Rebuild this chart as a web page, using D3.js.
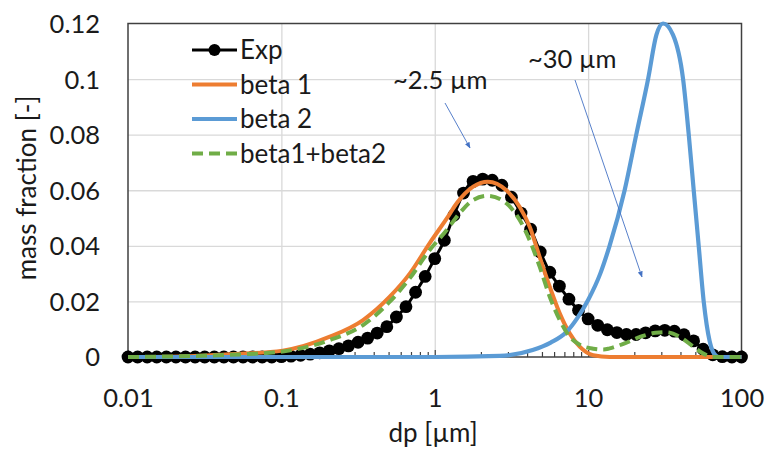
<!DOCTYPE html>
<html>
<head>
<meta charset="utf-8">
<script src="https://cdn.jsdelivr.net/npm/d3@7/dist/d3.min.js"></script>
<style>
  html, body { margin: 0; padding: 0; background: #fff; }
  svg { display: block; }
  text { font-family: Lato, "Open Sans", sans-serif; fill: #1a1a1a; }
</style>
</head>
<body>
<svg id="chart" width="768" height="453"></svg>
<script>
// Measured size distribution (dp in µm, mass fraction)
const expDp = [0.01, 0.01155, 0.01334, 0.0154, 0.01778, 0.02054, 0.02371, 0.02738, 0.03162, 0.03652, 0.04217, 0.0487, 0.05623, 0.06494, 0.07499, 0.0866,
  0.1, 0.1155, 0.1334, 0.154, 0.1778, 0.2054, 0.2371, 0.2738, 0.3162, 0.3652, 0.4217, 0.487, 0.5623, 0.6494, 0.7499, 0.866,
  1, 1.155, 1.334, 1.54, 1.778, 2.054, 2.371, 2.738, 3.162, 3.652, 4.217, 4.87, 5.623, 6.494, 7.499, 8.66,
  10, 11.55, 13.34, 15.4, 17.78, 20.54, 23.71, 27.38, 31.62, 36.52, 42.17, 48.7, 56.23, 64.94, 74.99, 86.6, 100];
const expVal = [0, 0, 0, 0, 0, 0, 0, 0, 0, 0, 0, 0, 0, 0, 0, 0,
  0.0001, 0.0003, 0.0006, 0.0010, 0.0015, 0.0022, 0.0030, 0.0040, 0.0053, 0.0068, 0.0086, 0.0109, 0.0144, 0.0181, 0.0233, 0.0290,
  0.0354, 0.0420, 0.0510, 0.0590, 0.0632, 0.0640, 0.0636, 0.0618, 0.0575, 0.0518, 0.0460, 0.0378, 0.0305, 0.0255, 0.0208, 0.0168,
  0.0137, 0.0114, 0.0098, 0.0088, 0.0081, 0.0081, 0.0087, 0.0094, 0.0096, 0.0093, 0.0080, 0.0058, 0.0028, 0.0008, 0.0001, 0, 0];

// Fitted beta distribution 1
const beta1Dp = [0.01, 0.0218, 0.0461, 0.102, 0.207, 0.341, 0.509, 0.687, 0.927, 1.22, 1.39, 1.78, 2.22, 2.93, 3.58, 4.16, 4.83, 5.62, 6.53, 7.58, 8.81, 10.8, 13.8, 100];
const beta1Val = [0, 0.0002, 0.0010, 0.0023, 0.0073, 0.0133, 0.0217, 0.0300, 0.0410, 0.0505, 0.0553, 0.0613, 0.0631, 0.0600, 0.0540, 0.0469, 0.0360, 0.0253, 0.0157, 0.0085, 0.0037, 0.0006, 0, 0];

// Fitted beta distribution 2
const beta2Dp = [0.01, 1, 2.65, 4.35, 5.7, 7.22, 8.5, 10.0, 12.0, 13.8, 17.3, 20.6, 24.6, 27.9, 30.8, 35.7, 41.6, 45.3, 48.8, 52.6, 56.7, 62.1, 67.9, 71, 100];
const beta2Val = [0, 0, 0.0004, 0.0025, 0.0052, 0.0090, 0.0140, 0.0205, 0.0300, 0.0400, 0.0600, 0.0800, 0.1000, 0.1160, 0.1200, 0.1160, 0.1000, 0.0800, 0.0600, 0.0400, 0.0200, 0.0055, 0.0005, 0, 0];

// Sum of both fitted distributions
const sumDp = [0.01, 0.0461, 0.102, 0.207, 0.341, 0.509, 0.687, 0.927, 1.19, 1.45, 1.78, 2.22, 2.93, 3.58, 4.16, 4.83, 5.62, 6.53, 7.58, 8.81, 10.8, 12.6, 13.8, 17.3, 22.0, 27.5, 32.5, 40.0, 48.5, 56.0, 67.0, 100];
const sumVal = [0, 0.0008, 0.0020, 0.0061, 0.0115, 0.0199, 0.0283, 0.0385, 0.0455, 0.0517, 0.0565, 0.0580, 0.0553, 0.0493, 0.0420, 0.0325, 0.0217, 0.0133, 0.0073, 0.0044, 0.0030, 0.0027, 0.0031, 0.0049, 0.0073, 0.0087, 0.0089, 0.0071, 0.0037, 0.0013, 0, 0];

const xTickValues = [0.01, 0.1, 1, 10, 100];
const xTickLabels = ["0.01", "0.1", "1", "10", "100"];
const yTickValues = [0, 0.02, 0.04, 0.06, 0.08, 0.1, 0.12];
const yTickLabels = ["0", "0.02", "0.04", "0.06", "0.08", "0.1", "0.12"];

const seriesNames = ["Exp", "beta 1", "beta 2", "beta1+beta2"];
const seriesColors = ["#000000", "#ED7D31", "#5B9BD5", "#70AD47"];

const svg = d3.select("#chart");
const plotLeft = 128, plotRight = 741.5, plotTop = 23.5, plotBottom = 357;

const x = d3.scaleLog().domain([0.01, 100]).range([plotLeft, plotRight]);
const y = d3.scaleLinear().domain([0, 0.12]).range([plotBottom, plotTop]);

// gridlines
const grid = svg.append("g");
grid.append("g")
  .attr("transform", `translate(0,${plotBottom})`)
  .call(d3.axisBottom(x).tickValues(xTickValues.slice(1, -1)).tickSize(-(plotBottom - plotTop)).tickFormat(""))
  .call(g => g.select(".domain").remove())
  .call(g => g.selectAll("line").attr("stroke", "#d9d9d9").attr("stroke-width", 1.3));
grid.append("g")
  .attr("transform", `translate(${plotLeft},0)`)
  .call(d3.axisLeft(y).tickValues(yTickValues.slice(1, -1)).tickSize(-(plotRight - plotLeft)).tickFormat(""))
  .call(g => g.select(".domain").remove())
  .call(g => g.selectAll("line").attr("stroke", "#d9d9d9").attr("stroke-width", 1.3));

// minor ticks along the bottom edge
const minorTicks = [];
for (let e = -2; e < 2; e++) for (let m = 2; m <= 9; m++) minorTicks.push(m * Math.pow(10, e));
svg.append("g")
  .attr("transform", `translate(0,${plotBottom})`)
  .call(d3.axisBottom(x).tickValues(minorTicks).tickSize(-5).tickFormat(""))
  .call(g => g.select(".domain").remove())
  .call(g => g.selectAll("line").attr("stroke", "#404040").attr("stroke-width", 1.2));
svg.append("g")
  .attr("transform", `translate(0,${plotBottom})`)
  .call(d3.axisBottom(x).tickValues(xTickValues).tickSize(-7).tickFormat(""))
  .call(g => g.select(".domain").remove())
  .call(g => g.selectAll("line").attr("stroke", "#404040").attr("stroke-width", 1.2));

// plot frame
svg.append("rect")
  .attr("x", plotLeft).attr("y", plotTop)
  .attr("width", plotRight - plotLeft).attr("height", plotBottom - plotTop)
  .attr("fill", "none").attr("stroke", "#404040").attr("stroke-width", 1.5);

// axis labels
svg.append("g")
  .attr("transform", `translate(0,${plotBottom + 31})`)
  .call(d3.axisBottom(x).tickValues(xTickValues).tickSize(0).tickFormat((d, i) => xTickLabels[i]))
  .call(g => g.select(".domain").remove())
  .call(g => g.selectAll("text").attr("font-size", 25.5).attr("dy", "0.35em").attr("y", 10)
    .style("font-family", "Lato, sans-serif").attr("fill", "#1a1a1a"));
svg.append("g")
  .attr("transform", `translate(${plotLeft - 28},0)`)
  .call(d3.axisLeft(y).tickValues(yTickValues).tickSize(0).tickFormat((d, i) => yTickLabels[i]))
  .call(g => g.select(".domain").remove())
  .call(g => g.selectAll("text").attr("font-size", 25.5).attr("x", 0).attr("dy", "0.35em")
    .style("font-family", "Lato, sans-serif").attr("fill", "#1a1a1a"));

svg.append("text")
  .attr("x", 433).attr("y", 442)
  .attr("text-anchor", "middle").attr("font-size", 26)
  .text("dp [µm]");
svg.append("text")
  .attr("transform", "translate(36,188) rotate(-90)")
  .attr("text-anchor", "middle").attr("font-size", 26)
  .text("mass fraction [-]");

const line = d3.line().x(d => x(d[0])).y(d => y(d[1])).curve(d3.curveMonotoneX);
const zip = (a, b) => a.map((v, i) => [v, b[i]]);

const plot = svg.append("g");

// measured data: line with markers
const expData = zip(expDp, expVal);
plot.append("path").datum(expData)
  .attr("d", line).attr("fill", "none").attr("stroke", seriesColors[0]).attr("stroke-width", 3);
plot.append("g").selectAll("circle").data(expData).join("circle")
  .attr("cx", d => x(d[0])).attr("cy", d => y(d[1])).attr("r", 6.4).attr("fill", seriesColors[0]);

// fitted curves
plot.append("path").datum(zip(beta1Dp, beta1Val))
  .attr("d", line).attr("fill", "none").attr("stroke", seriesColors[1]).attr("stroke-width", 4)
  .attr("stroke-linejoin", "round");
plot.append("path").datum(zip(beta2Dp, beta2Val))
  .attr("d", line).attr("fill", "none").attr("stroke", seriesColors[2]).attr("stroke-width", 4.2)
  .attr("stroke-linejoin", "round");
plot.append("path").datum(zip(sumDp, sumVal))
  .attr("d", line).attr("fill", "none").attr("stroke", seriesColors[3]).attr("stroke-width", 4)
  .attr("stroke-dasharray", "11,6");

// legend
const legend = svg.append("g").attr("transform", "translate(192,50)");
seriesNames.forEach((name, i) => {
  const gy = i * 34.5;
  const item = legend.append("g").attr("transform", `translate(0,${gy})`);
  item.append("line").attr("x1", 0).attr("x2", 45).attr("y1", 0).attr("y2", 0)
    .attr("stroke", seriesColors[i]).attr("stroke-width", i === 0 ? 3 : 4)
    .attr("stroke-dasharray", i === 3 ? "11,6" : null);
  if (i === 0) item.append("circle").attr("cx", 22.5).attr("cy", 0).attr("r", 6).attr("fill", "#000");
  item.append("text").attr("x", 48).attr("y", 0).attr("dy", "0.35em")
    .attr("font-size", 26).text(name);
});

// annotations with arrows
const defs = svg.append("defs");
defs.append("marker").attr("id", "arrowhead")
  .attr("viewBox", "0 0 10 10").attr("refX", 9).attr("refY", 5)
  .attr("markerWidth", 7).attr("markerHeight", 7).attr("orient", "auto")
  .append("path").attr("d", "M0,1 L10,5 L0,9 Z").attr("fill", "#4472C4");

svg.append("text").attr("x", 393).attr("y", 89).attr("font-size", 25.5).text("~2.5 µm");
svg.append("line").attr("x1", 445).attr("y1", 103).attr("x2", 470).attr("y2", 148)
  .attr("stroke", "#4472C4").attr("stroke-width", 0.9).attr("marker-end", "url(#arrowhead)");

svg.append("text").attr("x", 528).attr("y", 68).attr("font-size", 25.5).text("~30 µm");
svg.append("line").attr("x1", 575).attr("y1", 80).attr("x2", 642).attr("y2", 277)
  .attr("stroke", "#4472C4").attr("stroke-width", 0.9).attr("marker-end", "url(#arrowhead)");
</script>
</body>
</html>
